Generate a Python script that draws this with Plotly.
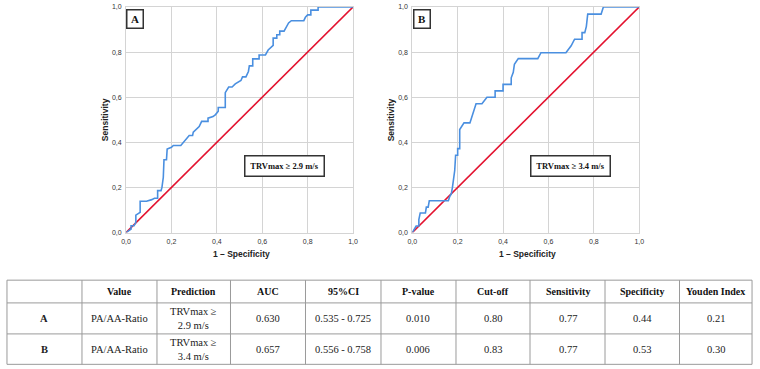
import plotly.graph_objects as go

# ---------------- data ----------------
tick_vals = [0.0, 0.2, 0.4, 0.6, 0.8, 1.0]
tick_labels = ["0,0", "0,2", "0,4", "0,6", "0,8", "1,0"]

roc_a_x = [0, 0.015, 0.022, 0.022, 0.035, 0.043, 0.043, 0.055, 0.062, 0.062, 0.09, 0.113, 0.125, 0.139,
           0.139, 0.154, 0.158, 0.164, 0.167, 0.178, 0.181, 0.2, 0.208, 0.241, 0.278, 0.293, 0.296, 0.322,
           0.333, 0.361, 0.361, 0.383, 0.394, 0.406, 0.406, 0.437, 0.437, 0.452, 0.467, 0.481, 0.506, 0.513,
           0.528, 0.539, 0.543, 0.558, 0.558, 0.586, 0.586, 0.614, 0.626, 0.648, 0.648, 0.664, 0.664, 0.677,
           0.677, 0.696, 0.707, 0.716, 0.728, 0.783, 0.79, 0.8, 0.814, 0.814, 0.846, 0.846, 1.0]
roc_a_y = [0, 0.01, 0.015, 0.03, 0.03, 0.045, 0.077, 0.085, 0.09, 0.139, 0.139, 0.146, 0.152, 0.152,
           0.186, 0.186, 0.2, 0.245, 0.323, 0.323, 0.37, 0.378, 0.386, 0.386, 0.43, 0.43, 0.445, 0.47,
           0.493, 0.493, 0.507, 0.514, 0.523, 0.538, 0.554, 0.554, 0.62, 0.645, 0.645, 0.659, 0.674, 0.69,
           0.69, 0.714, 0.739, 0.739, 0.77, 0.77, 0.787, 0.787, 0.809, 0.83, 0.862, 0.862, 0.877, 0.877,
           0.893, 0.893, 0.91, 0.929, 0.939, 0.939, 0.954, 0.965, 0.965, 0.986, 0.986, 1.0, 1.0]

roc_b_x = [0, 0.01, 0.017, 0.029, 0.029, 0.035, 0.058, 0.062, 0.07, 0.075, 0.159, 0.165, 0.172, 0.177,
           0.187, 0.191, 0.2, 0.2, 0.209, 0.209, 0.228, 0.254, 0.271, 0.281, 0.307, 0.329, 0.365, 0.365,
           0.4, 0.4, 0.436, 0.436, 0.445, 0.45, 0.467, 0.553, 0.567, 0.677, 0.7, 0.715, 0.748, 0.748,
           0.76, 0.767, 0.773, 0.832, 0.842, 1.0]
roc_b_y = [0, 0.014, 0.029, 0.029, 0.058, 0.087, 0.087, 0.113, 0.113, 0.141, 0.141, 0.16, 0.171, 0.2,
           0.275, 0.343, 0.343, 0.372, 0.372, 0.457, 0.486, 0.486, 0.536, 0.571, 0.571, 0.6, 0.6, 0.628,
           0.628, 0.657, 0.657, 0.686, 0.71, 0.746, 0.771, 0.771, 0.797, 0.797, 0.828, 0.857, 0.857, 0.886,
           0.886, 0.914, 0.968, 0.968, 1.0, 1.0]

ref_x = [0, 1]
ref_y = [0, 1]

panel_labels = ["A", "B"]
panel_boxes = ["TRVmax ≥ 2.9 m/s", "TRVmax ≥ 3.4 m/s"]

table_header = ["", "Value", "Prediction", "AUC", "95%CI", "P-value", "Cut-off",
                "Sensitivity", "Specificity", "Youden Index"]
row_labels = ["A", "B"]
col_value = ["PA/AA-Ratio", "PA/AA-Ratio"]
col_prediction = ["TRVmax ≥<br>2.9 m/s", "TRVmax ≥<br>3.4 m/s"]
col_auc = ["0.630", "0.657"]
col_ci = ["0.535 - 0.725", "0.556 - 0.758"]
col_p = ["0.010", "0.006"]
col_cutoff = ["0.80", "0.83"]
col_sens = ["0.77", "0.77"]
col_spec = ["0.44", "0.53"]
col_youden = ["0.21", "0.30"]

# ---------------- layout geometry (pixels) ----------------
W, H = 760, 369
def px(x):
    return x / W
def py(y):
    return 1 - y / H

BLUE = "#4a8fe0"
RED = "#e3122f"
GRID = "#d4d4d4"
SANS = "Liberation Sans, Arial, sans-serif"
SERIF = "Liberation Serif, Times New Roman, serif"

fig = go.Figure()

fig.add_trace(go.Scatter(x=ref_x, y=ref_y, mode="lines", line=dict(color=RED, width=1.6),
                         xaxis="x", yaxis="y", hoverinfo="skip", showlegend=False))
fig.add_trace(go.Scatter(x=roc_a_x, y=roc_a_y, mode="lines", line=dict(color=BLUE, width=1.6),
                         xaxis="x", yaxis="y", hoverinfo="skip", showlegend=False))
fig.add_trace(go.Scatter(x=ref_x, y=ref_y, mode="lines", line=dict(color=RED, width=1.6),
                         xaxis="x2", yaxis="y2", hoverinfo="skip", showlegend=False))
fig.add_trace(go.Scatter(x=roc_b_x, y=roc_b_y, mode="lines", line=dict(color=BLUE, width=1.6),
                         xaxis="x2", yaxis="y2", hoverinfo="skip", showlegend=False))

ydom = [py(233), py(3)]
axis_common = dict(range=[0, 1], tickvals=tick_vals, ticktext=tick_labels, showgrid=True,
                   gridcolor=GRID, gridwidth=1, showline=True, linecolor=GRID, linewidth=1,
                   mirror=True, zeroline=False, ticks="", tickfont=dict(family=SANS, size=7, color="#333"),
                   fixedrange=True, ticklabeloverflow="allow", ticklabelstandoff=2)

fig.update_layout(
    width=W, height=H, margin=dict(l=0, r=0, t=0, b=0),
    paper_bgcolor="white", plot_bgcolor="white", showlegend=False,
    xaxis=dict(domain=[px(122.7), px(352.7)], anchor="y", **axis_common),
    yaxis=dict(domain=ydom, anchor="x", **axis_common),
    xaxis2=dict(domain=[px(412.7), px(642.7)], anchor="y2", **axis_common),
    yaxis2=dict(domain=ydom, anchor="x2", **axis_common),
)

annotations = []
shapes = []

# axis titles and panel boxes
for i, (xa, ya, x0) in enumerate([("x", "y", 122.7), ("x2", "y2", 412.7)]):
    annotations.append(dict(text="<b>Sensitivity</b>", xref="paper", yref="paper",
                            x=px(x0 - 22), y=py(118), textangle=-90, showarrow=False,
                            font=dict(family=SANS, size=8.5, color="#222"), xanchor="center", yanchor="middle"))
    annotations.append(dict(text="<b>1 – Specificity</b>", xref="paper", yref="paper",
                            x=px(x0 + 117), y=py(254.5), showarrow=False,
                            font=dict(family=SANS, size=8.5, color="#222"), xanchor="center", yanchor="middle"))
    annotations.append(dict(text="<b>%s</b>" % panel_labels[i], xref=xa, yref=ya,
                            x=0.041, y=0.946, showarrow=False, width=13, height=15,
                            bordercolor="#333", borderwidth=1.5, borderpad=1, bgcolor="white",
                            font=dict(family=SERIF, size=11, color="#111")))
    annotations.append(dict(text="<b>%s</b>" % panel_boxes[i], xref=xa, yref=ya,
                            x=0.698, y=0.297, showarrow=False, width=74, height=15,
                            bordercolor="#333", borderwidth=1.5, borderpad=2, bgcolor="white",
                            font=dict(family=SERIF, size=8.5, color="#111")))

# table grid
col_edges = [2, 78, 154, 228.5, 304.5, 381, 457, 532, 608, 683.5, 757]
row_edges = [281.5, 304.7, 336.3, 367.3]
LINEC = "#9a9a9a"
for yy in row_edges:
    shapes.append(dict(type="line", xref="paper", yref="paper", x0=px(col_edges[0]), x1=px(col_edges[-1]),
                       y0=py(yy), y1=py(yy), line=dict(color=LINEC, width=1)))
for xx in col_edges:
    shapes.append(dict(type="line", xref="paper", yref="paper", x0=px(xx), x1=px(xx),
                       y0=py(row_edges[0]), y1=py(row_edges[-1]), line=dict(color=LINEC, width=1)))

centers_x = [(col_edges[k] + col_edges[k + 1]) / 2 for k in range(len(col_edges) - 1)]
centers_y = [(row_edges[k] + row_edges[k + 1]) / 2 for k in range(len(row_edges) - 1)]

for k, h in enumerate(table_header):
    if h:
        annotations.append(dict(text="<b>%s</b>" % h, xref="paper", yref="paper", x=px(centers_x[k]),
                                y=py(centers_y[0]), showarrow=False, xanchor="center", yanchor="middle",
                                font=dict(family=SERIF, size=10, color="#111")))

columns = [row_labels, col_value, col_prediction, col_auc, col_ci, col_p, col_cutoff,
           col_sens, col_spec, col_youden]
for r in range(2):
    for k, col in enumerate(columns):
        txt = col[r]
        if k == 0:
            txt = "<b>%s</b>" % txt
        annotations.append(dict(text=txt, xref="paper", yref="paper", x=px(centers_x[k]),
                                y=py(centers_y[r + 1]), showarrow=False, xanchor="center", yanchor="middle",
                                font=dict(family=SERIF, size=10.5, color="#222")))

fig.update_layout(annotations=annotations, shapes=shapes)

fig.write_html("out.html", config={"displayModeBar": False},
               post_script="document.body.style.margin='0';document.body.style.overflow='hidden';")
